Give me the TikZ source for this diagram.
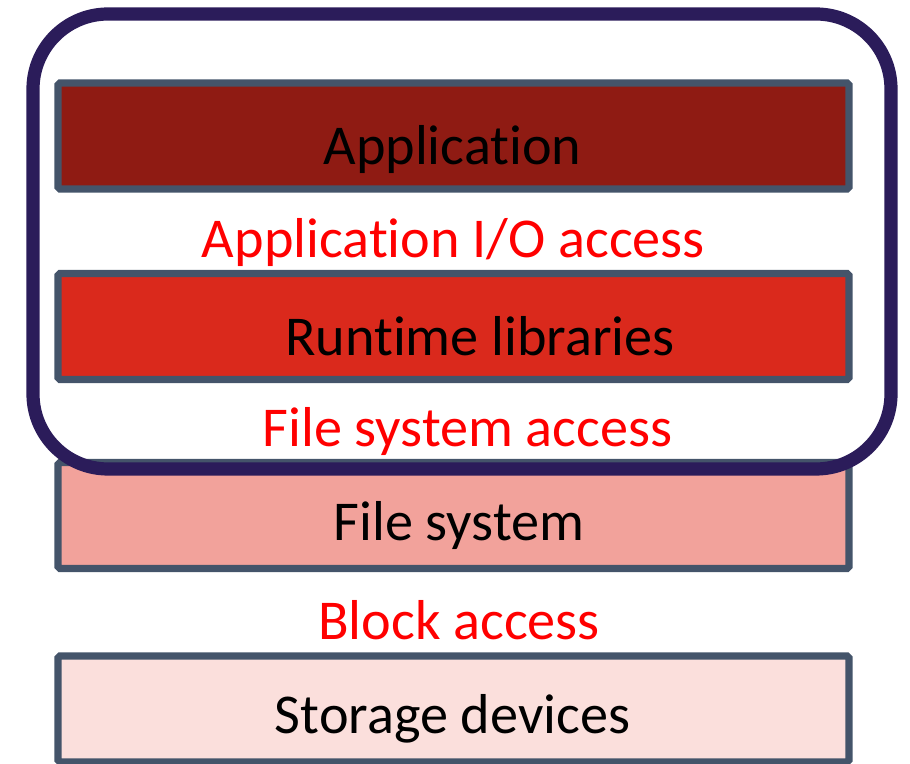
\documentclass[tikz,border=0pt]{standalone}
\usepackage{fontspec}
\setmainfont{Carlito}[Ligatures=NoCommon]
\usepackage{tikz}
\usetikzlibrary{positioning}

\definecolor{edge}{HTML}{44546A}
\definecolor{frame}{HTML}{2B1C5A}
\definecolor{appred}{HTML}{8F1B13}
\definecolor{libred}{HTML}{DA291C}
\definecolor{fsred}{HTML}{F2A29B}
\definecolor{devred}{HTML}{FBDFDC}

\begin{document}
\begin{tikzpicture}
\tikzstyle{layer} = [draw=edge, line width=4pt, rounded corners=1pt, minimum width=15.82cm, minimum height=2.12cm, inner sep=0pt, font=\fontsize{32}{38}\selectfont]
\tikzstyle{access} = [text=red, inner sep=0pt, font=\fontsize{32}{38}\selectfont]

\useasboundingbox (0,0) rectangle (18.2,-15.28);

\node[layer, fill=appred] (app) at (9.07,-2.72) {};
\node (apptext) at (9.05,-3.0) {\fontsize{32}{38}\selectfont Applicat\kern0pt ion};
\node[layer, fill=libred] (lib) at (9.07,-6.53) {};
\node (libtext) at (9.6,-6.72) {\fontsize{32}{38}\selectfont Runt\kern0pt ime libraries};
\node[layer, fill=fsred] (fs) at (9.07,-10.31) {};
\node (fstext) at (9.18,-10.52) {\fontsize{32}{38}\selectfont File system};
\node[layer, fill=devred] (dev) at (9.07,-14.18) {};
\node (devtext) at (9.05,-14.38) {\fontsize{32}{38}\selectfont Storage devices};

\node[access] (ioacc) at (9.07,-4.86) {Applicat\kern0pt ion I/O access};
\node[access] (fsacc) at (9.35,-8.64) {File system access};
\node[access] (blkacc) at (9.18,-12.4) {Block access};

% user space group
\draw[frame, line width=7.5pt, rounded corners=1.5cm] (0.66,-0.28) rectangle (17.82,-9.38);

\end{tikzpicture}
\end{document}
